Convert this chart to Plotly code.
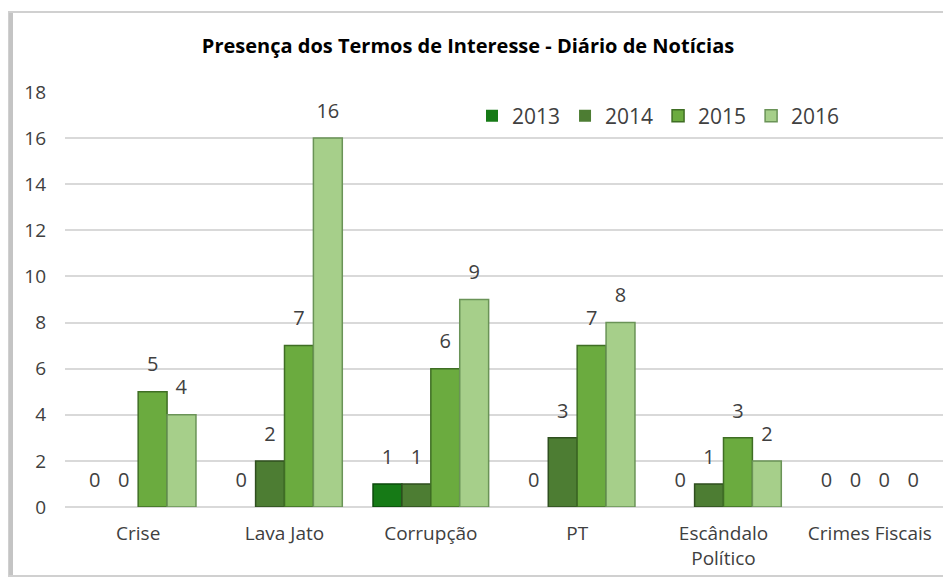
import plotly.graph_objects as go

categories = ["Crise", "Lava Jato", "Corrupção", "PT", "Escândalo<br>Político", "Crimes Fiscais"]
years = ["2013", "2014", "2015", "2016"]
v2013 = [0, 0, 1, 0, 0, 0]
v2014 = [0, 2, 1, 3, 1, 0]
v2015 = [5, 7, 6, 7, 3, 0]
v2016 = [4, 16, 9, 8, 2, 0]
series = [v2013, v2014, v2015, v2016]
colors = ["#167a16", "#4d7d33", "#6bab3f", "#a6cf8a"]
edge = ["#0b4a0b", "#2f4f1f", "#3f6e24", "#6a9357"]

font = "Open Sans"
fig = go.Figure()
for y, vals, c, e in zip(years, series, colors, edge):
    fig.add_trace(go.Bar(
        x=categories, y=vals, name=y,
        marker=dict(color=c, line=dict(color=e, width=[1.5 if v > 0 else 0 for v in vals])),
        text=[str(v) for v in vals], textposition="outside",
        texttemplate="<span style='font-size:20px'>%{text}</span><br> ",
        textfont=dict(size=11, color="#404040", family=font),
        cliponaxis=False,
    ))

# page has an 8px body margin: figure coords = screen coords - 8
OFF = 8
L, T, W, H = 65 - OFF, 92 - OFF, 878, 415
FW, FH = 943, 570
def px_x(p):
    return (p - OFF - L) / W
def px_y(p):
    return (T + H - (p - OFF)) / H

fig.update_layout(
    width=FW, height=FH,
    margin=dict(l=L, r=FW - L - W, t=T, b=FH - T - H, autoexpand=False),
    paper_bgcolor="white", plot_bgcolor="white",
    barmode="group", bargap=0.21, bargroupgap=0,
    title=dict(text="<b>Presença dos Termos de Interesse - Diário de Notícias</b>",
               x=(468 - OFF) / FW, xanchor="center", y=1 - (46 - OFF) / FH, yanchor="middle",
               font=dict(family=font, size=20, color="#000000")),
    font=dict(family=font, size=19, color="#404040"),
    legend=dict(orientation="h", x=px_x(472), y=px_y(116), xanchor="left", yanchor="middle",
                font=dict(size=21, color="#404040"), itemwidth=30,
                bgcolor="rgba(0,0,0,0)", traceorder="normal"),
    yaxis=dict(range=[0, 18], dtick=2, showgrid=True, gridcolor="#d9d9d9", gridwidth=1.5,
               zeroline=True, zerolinecolor="#d9d9d9", zerolinewidth=1.5,
               tickfont=dict(size=19, color="#404040"), ticks="", ticklabelstandoff=18,
               showline=False, automargin=False),
    xaxis=dict(showline=False, ticks="", tickfont=dict(size=19, color="#404040"),
               ticklabelstandoff=13, automargin=False),
    shapes=[
        dict(type="rect", xref="paper", yref="paper", x0=px_x(9), x1=px_x(950), y0=px_y(576), y1=px_y(12),
             line=dict(color="#d0d0d0", width=2), layer="below"),
        dict(type="line", xref="paper", yref="paper", x0=px_x(11), x1=px_x(11), y0=px_y(575), y1=px_y(13),
             line=dict(color="#c4c4c4", width=4), layer="below"),
    ],
)
fig.write_html("out.html")
